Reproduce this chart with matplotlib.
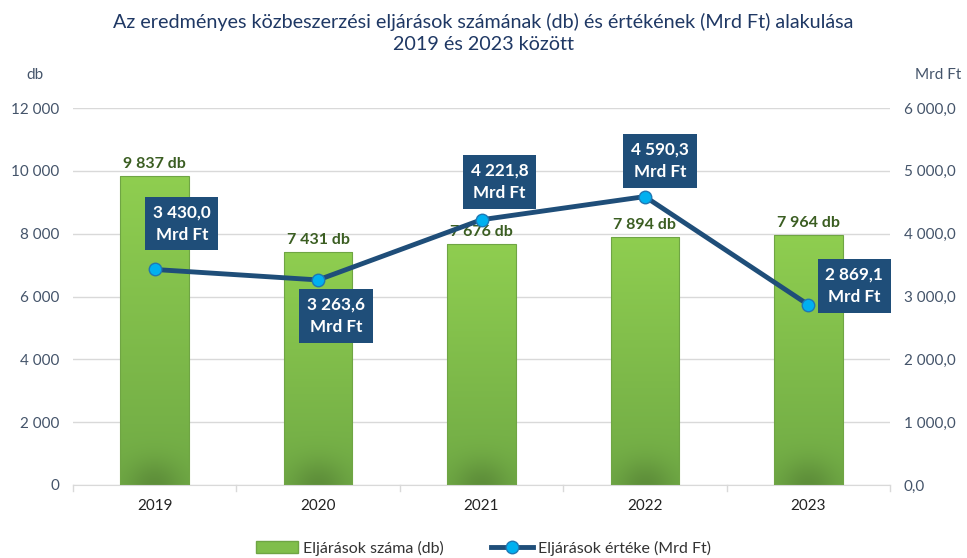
import matplotlib
matplotlib.use("Agg")
import matplotlib.pyplot as plt
import numpy as np
from matplotlib.patches import Rectangle
from matplotlib.lines import Line2D
from matplotlib.colors import to_rgb

years = ["2019", "2020", "2021", "2022", "2023"]
counts = [9837, 7431, 7676, 7894, 7964]
values = [3430.0, 3263.6, 4221.8, 4590.3, 2869.1]
count_labels = ["9 837 db", "7 431 db", "7 676 db", "7 894 db", "7 964 db"]
value_labels = ["3 430,0\nMrd Ft", "3 263,6\nMrd Ft", "4 221,8\nMrd Ft", "4 590,3\nMrd Ft", "2 869,1\nMrd Ft"]
left_ticks = [0, 2000, 4000, 6000, 8000, 10000, 12000]
left_ticklabels = ["0", "2 000", "4 000", "6 000", "8 000", "10 000", "12 000"]
right_ticks = [0, 1000, 2000, 3000, 4000, 5000, 6000]
right_ticklabels = ["0,0", "1 000,0", "2 000,0", "3 000,0", "4 000,0", "5 000,0", "6 000,0"]

plt.rcParams['font.family'] = ['Lato', 'DejaVu Sans']

W, H = 967, 558
fig = plt.figure(figsize=(W/100, H/100), dpi=100)
ax = fig.add_axes([73/W, 1-485/H, (890-73)/W, (485-108)/H])
ax2 = ax.twinx()

tick_color = "#44546A"
title_color = "#1F3864"
box_color = "#1F4E79"
bar_edge = "#6FA544"

x = np.arange(len(years))
bw = 0.42

top = np.array(to_rgb("#8FCE50"))
bot = np.array(to_rgb("#70AA45"))
ny, nx = 300, 60
t = np.linspace(0, 1, ny).reshape(-1, 1, 1)
img = bot + (top - bot) * t
img = np.repeat(img, nx, axis=1)

for i, c in enumerate(counts):
    frac = 25.0 / (c / 12000 * 377)
    yy = np.linspace(0, 1, ny).reshape(-1, 1)
    xx = np.linspace(-1, 1, nx).reshape(1, -1)
    dark = np.exp(-(yy / frac) ** 2) * np.exp(-(xx / 0.8) ** 2) * 0.16
    im_arr = img * (1 - dark[..., None])
    rect = Rectangle((x[i]-bw/2, 0), bw, c, facecolor="none", edgecolor=bar_edge, linewidth=0.8, zorder=3)
    ax.add_patch(rect)
    im = ax.imshow(np.clip(im_arr, 0, 1), extent=(x[i]-bw/2, x[i]+bw/2, 0, c), origin="lower",
                   aspect="auto", zorder=2, interpolation="bilinear")
    im.set_clip_path(rect)
    ax.text(x[i], c + 150, count_labels[i], ha="center", va="bottom", fontsize=11.5,
            fontweight="bold", color="#3B5E22", zorder=5)
ax.set_aspect("auto")
ax.set_xlim(-0.5, len(years)-0.5)
ax.set_ylim(0, 12000)
ax2.set_ylim(0, 6000)

ax.set_yticks(left_ticks)
ax.set_yticklabels(left_ticklabels)
ax2.set_yticks(right_ticks)
ax2.set_yticklabels(right_ticklabels)
ax.set_xticks(x)
ax.set_xticklabels(years)
for a in (ax, ax2):
    a.tick_params(axis="y", length=0, labelsize=11, labelcolor=tick_color, pad=10)
    for s in a.spines.values():
        s.set_visible(False)
ax.tick_params(axis="x", length=0, labelsize=11, labelcolor="#222222", pad=10)
ax.grid(axis="y", color="#D9D9D9", linewidth=1, zorder=0)
ax.set_axisbelow(True)
ax.spines["bottom"].set_visible(True)
ax.spines["bottom"].set_color("#D9D9D9")
for b in np.arange(-0.5, len(years)-0.4, 1.0):
    ax.plot([b, b], [0, -180], color="#D9D9D9", lw=1, clip_on=False, zorder=1)

ax2.plot(x, values, color="#1F4E79", lw=3.5, zorder=6, solid_capstyle="round")
ax2.plot(x, values, linestyle="none", marker="o", markersize=9, markerfacecolor="#00B0F0",
         markeredgecolor="#1F78B4", markeredgewidth=1, zorder=7)

offsets = [(27, 46), (18, -36), (18, 38), (15, 36), (46, 19)]
for i, v in enumerate(values):
    dx, dy = offsets[i]
    ax2.annotate(value_labels[i], (x[i], v), xytext=(dx, dy), textcoords="offset pixels",
                 ha="center", va="center", fontsize=12.3, fontweight="bold", color="white",
                 linespacing=1.5, zorder=8,
                 bbox=dict(boxstyle="square,pad=0.45", facecolor=box_color, edgecolor="none"))

fig.text(0.5, 1-22/H, "Az eredményes közbeszerzési eljárások számának (db) és értékének (Mrd Ft) alakulása",
         ha="center", va="center", fontsize=14.2, color=title_color)
fig.text(0.5, 1-45/H, "2019 és 2023 között", ha="center", va="center", fontsize=14.2, color=title_color)
fig.text(35/W, 1-75/H, "db", ha="center", va="center", fontsize=11, color=tick_color)
fig.text(938/W, 1-75/H, "Mrd Ft", ha="center", va="center", fontsize=11, color=tick_color)

handles = [Rectangle((0, 0), 1, 1, facecolor="#80BE4B", edgecolor=bar_edge),
           Line2D([0], [0], color="#1F4E79", lw=3.5, marker="o", markersize=9,
                  markerfacecolor="#00B0F0", markeredgecolor="#1F78B4")]
fig.legend(handles, ["Eljárások száma (db)", "Eljárások értéke (Mrd Ft)"], loc="center",
           bbox_to_anchor=(0.5, 1-548/H), ncol=2, frameon=False, fontsize=11.5,
           labelcolor="#333333", handlelength=2.6, columnspacing=3, handletextpad=0.3)

fig.savefig("out.png", dpi=100, facecolor="white")
